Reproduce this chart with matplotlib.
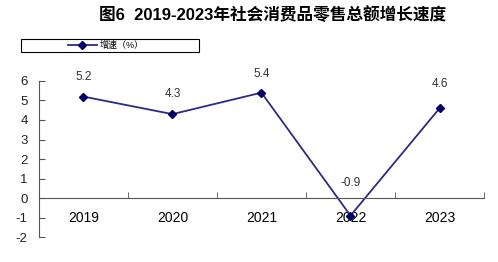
import matplotlib
matplotlib.use("Agg")
import matplotlib.pyplot as plt
from matplotlib.ticker import FixedLocator
from matplotlib.patches import Rectangle

plt.rcParams['font.family'] = ['Liberation Sans', 'Noto Sans CJK SC', 'DejaVu Sans']

# datos
years = ["2019", "2020", "2021", "2022", "2023"]
growth = [5.2, 4.3, 5.4, -0.9, 4.6]
yticks = [-2, -1, 0, 1, 2, 3, 4, 5, 6]
title = "图6  2019-2023年社会消费品零售总额增长速度"
serie = "增速（%）"

# desplazamiento vertical de las etiquetas (pt)
label_dy = [10, 10, 9, 19, 13]

fig = plt.figure(figsize=(4.98, 2.62), dpi=100)
ax = fig.add_axes([0.078, 0.095, 0.894, 0.596])

x = list(range(len(years)))
line, = ax.plot(x, growth, color="#2b2b80", lw=1.3, marker="D", ms=4.5,
                mfc="#000066", mec="#000066")

for xi, v, dy in zip(x, growth, label_dy):
    ax.annotate(f"{v}", (xi, v), xytext=(0, dy), textcoords="offset points",
                ha="center", va="bottom", fontsize=8.5, color="#333333")

ax.set_xlim(-0.5, len(years) - 0.5)
ax.set_ylim(-2, 6)
ax.set_yticks(yticks)
ax.set_yticklabels([str(t) for t in yticks], fontsize=9.5, color="#222222")

ax.set_xticks(x)
ax.set_xticklabels(years, fontsize=7.5, color="#444444")
ax.xaxis.set_minor_locator(FixedLocator([i + 0.5 for i in x]))
ax.tick_params(axis="x", which="major", length=0, pad=9)
ax.tick_params(axis="x", which="minor", direction="in", length=4, color="#555555")
ax.tick_params(axis="y", direction="in", length=4, color="#555555", pad=8)

ax.spines["top"].set_visible(False)
ax.spines["right"].set_visible(False)
ax.spines["bottom"].set_position(("data", 0))
ax.spines["bottom"].set_color("#555555")
ax.spines["left"].set_color("#555555")

fig.text(0.548, 0.943, title, ha="center", va="center", fontsize=12,
         fontweight="bold")

# recuadro de la leyenda
fig.patches.append(Rectangle((21 / 498, 1 - 52 / 262), 178 / 498, 13 / 262,
                             transform=fig.transFigure, fill=False,
                             edgecolor="black", lw=0.8))
fig.legend([line], [serie], loc="center left", bbox_to_anchor=(68 / 498, 1 - 45.5 / 262),
           fontsize=6.5, frameon=False, handlelength=3.2, borderpad=0,
           borderaxespad=0, handletextpad=0.3, markerscale=0.8)

plt.savefig("out.png", dpi=100)
